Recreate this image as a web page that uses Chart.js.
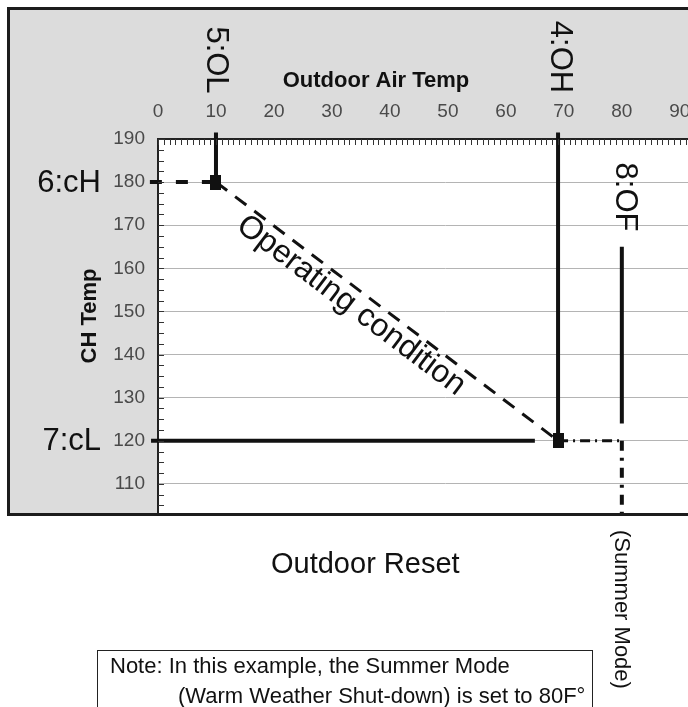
<!DOCTYPE html>
<html>
<head>
<meta charset="utf-8">
<title>Outdoor Reset</title>
<script src="https://cdn.jsdelivr.net/npm/chart.js@4.4.1/dist/chart.umd.min.js"></script>
<style>
  html, body { margin: 0; padding: 0; background: #fff; overflow: hidden; }
  body { position: relative; width: 688px; height: 707px; font-family: "Liberation Sans", Arial, sans-serif; color: #111; }
  #wrap { position: absolute; left: 0; top: 0; width: 740px; height: 707px; }
  .reset { position: absolute; left: 271px; top: 547px; font-size: 29px; white-space: nowrap; }
  .note { position: absolute; left: 97px; top: 650px; width: 494px; height: 80px; border: 1px solid #222; border-bottom: none; font-size: 22px; line-height: 30px; white-space: nowrap; }
  .note div:first-child { padding: 0 0 0 12px; }
  .note div:last-child { padding-left: 80px; }
  .summer { position: absolute; left: 609px; top: 530px; font-size: 22px; writing-mode: vertical-rl; white-space: nowrap; }
</style>
</head>
<body>
<div id="wrap"><canvas id="chart" width="740" height="707"></canvas></div>
<div class="reset">Outdoor Reset</div>
<div class="note">
  <div>Note: In this example, the Summer Mode</div>
  <div>(Warm Weather Shut-down) is set to 80F°</div>
</div>
<div class="summer">(Summer Mode)</div>
<script>
// reset settings: outdoor air temps (x) and CH temps (y)
const settingNames = ['5:OL', '4:OH', '8:OF', '6:cH', '7:cL'];
const outdoorSettings = [10, 69, 80];   // OL, OH, OF
const chSettings = [180, 120];          // cH, cL

// operating curve between the two set points
const curveX = [10, 69];
const curveY = [180, 120];

// axis ranges and tick labels
const xTickLabels = [0, 10, 20, 30, 40, 50, 60, 70, 80, 90];
const yTickLabels = [110, 120, 130, 140, 150, 160, 170, 180, 190];
const xRange = [0, 99];
const yRange = [103, 190];

// where the guide lines start / stop
const guideTop = 191.5;          // OL / OH guides poke above the axis
const leaderLeft = [-1.4, -1.2]; // cH / cL leaders start left of the axis
const cLEnd = 65;                // solid cL line stops before OH
const ofSolid = [165, 124];      // solid part of the OF marker line

const INK = '#111';
const FONT = 'Liberation Sans';

const [OL, OH, OF] = outdoorSettings;
const [cH, cL] = chSettings;

// tall black square used for the set points
const marker = document.createElement('canvas');
marker.width = 11; marker.height = 15;
const mctx = marker.getContext('2d');
mctx.fillStyle = INK;
mctx.fillRect(0, 0, 11, 15);

function line(points, extra) {
  return Object.assign({
    data: points,
    borderColor: INK,
    borderWidth: 4,
    borderCapStyle: 'butt',
    pointRadius: 0,
    fill: false,
    clip: false,
    tension: 0
  }, extra || {});
}

const panelPlugin = {
  id: 'panel',
  beforeDraw(chart) {
    const { ctx, chartArea: a } = chart;
    ctx.save();
    ctx.fillStyle = '#dcdcdc';
    ctx.fillRect(8, 8, chart.width, 507);
    ctx.fillStyle = '#ffffff';
    ctx.fillRect(a.left, a.top, a.right - a.left, a.bottom - a.top);
    ctx.restore();
  },
  afterDraw(chart) {
    const ctx = chart.ctx;
    ctx.save();
    ctx.strokeStyle = '#1c1c1c';
    ctx.lineWidth = 3;
    ctx.strokeRect(8.5, 8.5, chart.width + 20, 506);
    ctx.restore();
  }
};

// small ruler ticks pointing into the plot
const minorTicks = {
  id: 'minorTicks',
  afterDatasetsDraw(chart) {
    const { ctx, chartArea: a, scales: { x, y } } = chart;
    ctx.save();
    ctx.strokeStyle = '#333';
    ctx.lineWidth = 1;
    ctx.beginPath();
    for (let v = xRange[0]; v <= xRange[1]; v += 1) {
      const px = Math.round(x.getPixelForValue(v)) + 0.5;
      ctx.moveTo(px, a.top);
      ctx.lineTo(px, a.top + 6);
    }
    for (let v = 105; v <= yRange[1]; v += 2.5) {
      const py = Math.round(y.getPixelForValue(v)) + 0.5;
      ctx.moveTo(a.left, py);
      ctx.lineTo(a.left + 6, py);
    }
    ctx.stroke();
    ctx.restore();
  }
};

function rotatedText(ctx, text, cx, cy, angle) {
  ctx.save();
  ctx.translate(cx, cy);
  ctx.rotate(angle);
  ctx.textAlign = 'center';
  ctx.textBaseline = 'middle';
  ctx.fillText(text, 0, 0);
  ctx.restore();
}

const labelsPlugin = {
  id: 'settingLabels',
  afterDraw(chart) {
    const { ctx, scales: { x, y } } = chart;
    ctx.save();
    ctx.fillStyle = INK;

    // axis titles
    ctx.font = 'bold 22px ' + FONT;
    rotatedText(ctx, 'Outdoor Air Temp', 376, 81, 0);
    rotatedText(ctx, 'CH Temp', 90, 316, -Math.PI / 2);

    ctx.font = '31px ' + FONT;
    // outdoor settings, written down the page
    rotatedText(ctx, settingNames[0], x.getPixelForValue(OL), 60, Math.PI / 2);
    rotatedText(ctx, settingNames[1], x.getPixelForValue(OH) + 1, 57, Math.PI / 2);
    rotatedText(ctx, settingNames[2], x.getPixelForValue(OF) + 3, 197, Math.PI / 2);

    // CH settings left of the axis
    ctx.textAlign = 'right';
    ctx.textBaseline = 'middle';
    ctx.fillText(settingNames[3], 101, y.getPixelForValue(cH) + 1);
    ctx.fillText(settingNames[4], 101, y.getPixelForValue(cL) + 1);

    // label running along the operating curve
    const x1 = x.getPixelForValue(curveX[0]), y1 = y.getPixelForValue(curveY[0]);
    const x2 = x.getPixelForValue(curveX[1]), y2 = y.getPixelForValue(curveY[1]);
    const ang = Math.atan2(y2 - y1, x2 - x1);
    const t = 0.425, off = 17;
    const cx = x1 + t * (x2 - x1) - off * Math.sin(ang);
    const cy = y1 + t * (y2 - y1) + off * Math.cos(ang);
    ctx.font = '32px ' + FONT;
    rotatedText(ctx, 'Operating condition', cx, cy, ang);
    ctx.restore();
  }
};

const tickFont = { family: FONT, size: 19 };

new Chart(document.getElementById('chart'), {
  type: 'line',
  data: {
    datasets: [
      // set points
      {
        data: [{ x: curveX[0], y: curveY[0] }, { x: curveX[1], y: curveY[1] }],
        showLine: false,
        pointStyle: marker,
        pointRadius: 7,
        clip: false
      },
      // OL / OH guides from the top axis
      line([{ x: OL, y: guideTop }, { x: OL, y: cH }]),
      line([{ x: OH, y: guideTop }, { x: OH, y: cL }]),
      // cH leader
      line([{ x: leaderLeft[0], y: cH }, { x: OL, y: cH }], { borderDash: [12, 14] }),
      // operating condition
      line([{ x: curveX[0], y: curveY[0] }, { x: curveX[1], y: curveY[1] }], { borderWidth: 3, borderDash: [14, 10] }),
      // cL leader
      line([{ x: leaderLeft[1], y: cL }, { x: cLEnd, y: cL }]),
      // run-on to the warm weather shut-down
      line([{ x: OH, y: cL }, { x: OF, y: cL }], { borderWidth: 3, borderDash: [10, 5, 2, 5] }),
      line([{ x: OF, y: ofSolid[0] }, { x: OF, y: ofSolid[1] }]),
      line([{ x: OF, y: cL }, { x: OF, y: yRange[0] }], { borderDash: [10, 7, 3, 7] })
    ]
  },
  options: {
    responsive: false,
    animation: false,
    events: [],
    layout: { padding: { left: 0, top: 0, right: 2, bottom: 193 } },
    plugins: { legend: { display: false }, tooltip: { enabled: false } },
    scales: {
      x: {
        type: 'linear',
        position: 'top',
        min: xRange[0],
        max: xRange[1],
        afterFit(scale) { scale.height = 139; scale.paddingRight = 0; },
        afterBuildTicks(scale) { scale.ticks = xTickLabels.map(v => ({ value: v })); },
        grid: { display: false, drawTicks: false },
        border: { display: true, color: '#222', width: 2 },
        ticks: { autoSkip: false, maxRotation: 0, padding: 16, font: tickFont, color: '#4a4a4a' }
      },
      y: {
        type: 'linear',
        min: yRange[0],
        max: yRange[1],
        afterFit(scale) { scale.width = 158; },
        afterBuildTicks(scale) { scale.ticks = yTickLabels.map(v => ({ value: v })); },
        grid: {
          drawTicks: false,
          lineWidth: 1,
          color: c => (c.tick && c.tick.value === yRange[1]) ? 'rgba(0,0,0,0)' : '#b4b4b4'
        },
        border: { display: true, color: '#222', width: 2 },
        ticks: { autoSkip: false, padding: 13, font: tickFont, color: '#4a4a4a' }
      }
    }
  },
  plugins: [panelPlugin, minorTicks, labelsPlugin]
});
</script>
</body>
</html>
